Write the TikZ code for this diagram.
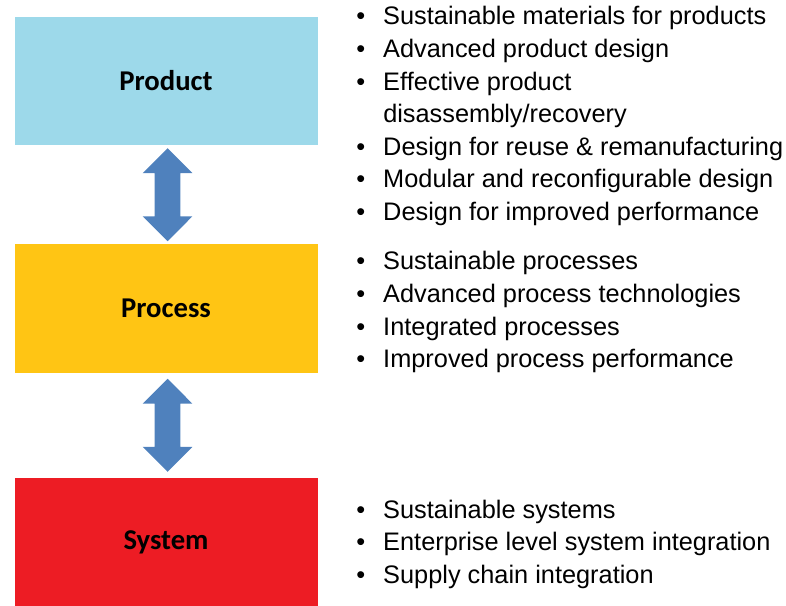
\documentclass[tikz,border=0pt]{standalone}
\usepackage{fontspec}
\setmainfont{Liberation Sans}
\newfontfamily\boxfont{Carlito}
\usetikzlibrary{shapes.arrows,calc}
\definecolor{prodblue}{HTML}{9DD9EA}
\definecolor{procgold}{HTML}{FFC514}
\definecolor{sysred}{HTML}{ED1C24}
\definecolor{arrowblue}{HTML}{4F81BD}
\newcommand{\itm}{\makebox[20.25pt][l]{\textbullet}}

\begin{document}
\begin{tikzpicture}[x=0.75pt,y=-0.75pt,
  level/.style={minimum width=227.25pt, minimum height=96pt, inner sep=0pt, font=\boxfont\bfseries\fontsize{21.5}{26}\selectfont},
  dblarrow/.style={double arrow, shape border rotate=90, fill=arrowblue, minimum height=69.75pt, double arrow head extend=9pt, inner sep=9.375pt},
  items/.style={anchor=base west, inner sep=0pt, font=\fontsize{19}{24.4}\selectfont}]
\useasboundingbox (0,0) rectangle (786,606);
\node[level, fill=prodblue] (product) at (166,81) {Product};
\node[level, fill=procgold] (process) at (166,308.5) {Process};
\node[level, fill=sysred] (system) at (166,542) {System};
\foreach \a/\b in {product/process,process/system}
  \node[dblarrow] (arr-\a) at ($(\a.south)!0.5!(\b.north)+(1.5,0)$) {};
\node[items] (prodlist) at (356,25) {\begin{tabular}[t]{@{}l@{}}
\itm Sustainable materials for products\\
\itm Advanced product design\\
\itm Effective product\\
\hspace{20.25pt}disassembly/recovery\\
\itm Design for reuse \& remanufacturing\\
\itm Modular and reconfigurable design\\
\itm Design for improved performance
\end{tabular}};
\node[items] (proclist) at (356,270) {\begin{tabular}[t]{@{}l@{}}
\itm Sustainable processes\\
\itm Advanced process technologies\\
\itm Integrated processes\\
\itm Improved process performance
\end{tabular}};
\node[items] (syslist) at (356,518) {\begin{tabular}[t]{@{}l@{}}
\itm Sustainable systems\\
\itm Enterprise level system integration\\
\itm Supply chain integration
\end{tabular}};
\end{tikzpicture}
\end{document}
